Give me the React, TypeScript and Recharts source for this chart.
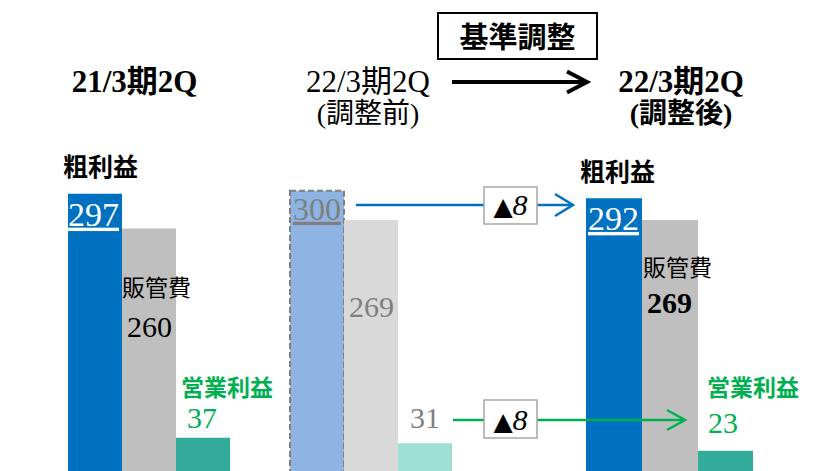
import React from 'react';
import { BarChart, Bar, XAxis, YAxis } from 'recharts';

// ---- data ----
const periods = ['21/3期2Q', '22/3期2Q', '22/3期2Q'];
const periodNotes = ['', '(調整前)', '(調整後)'];
const metricNames = ['粗利益', '販管費', '営業利益'];
const grossProfit = [297, 300, 292];
const sgaExpenses = [260, 269, 269];
const operatingIncome = [37, 31, 23];
const adjustments = [8, 8];

const row: Record<string, any> = { name: 'all' };
periods.forEach((_, i) => {
  row[`gp${i}`] = grossProfit[i];
  row[`sga${i}`] = sgaExpenses[i];
  row[`op${i}`] = operatingIncome[i];
});
const data = [row];

// ---- styles ----
const SERIF = "'Liberation Serif', 'Noto Sans CJK JP', serif";
const CJK = "'Noto Sans CJK JP', sans-serif";
const GREEN = '#00B050';
const gpColors = ['#0070C0', '#8EB4E3', '#0070C0'];
const sgaColors = ['#BFBFBF', '#D9D9D9', '#BFBFBF'];
const opColors = ['#33AB9A', '#9FE0D6', '#33AB9A'];
const barSizes = [
  [54, 54, 54],
  [54, 54, 54],
  [56, 56, 55],
];
const groupGaps = [60, 134];

type LabelSpec = {
  name?: { dx: number; dy: number; size: number; weight: any; color: string };
  value: { dx: number; dy: number; size: number; weight: any; color: string; underline?: boolean };
};

const gpLabels: LabelSpec[] = [
  { name: { dx: -5, dy: -17.5, size: 25, weight: 700, color: '#000' }, value: { dx: 0, dy: 32, size: 34, weight: 400, color: '#fff', underline: true } },
  { value: { dx: 3, dy: 29, size: 32, weight: 400, color: '#7F7F7F', underline: true } },
  { name: { dx: -6, dy: -17.5, size: 25, weight: 700, color: '#000' }, value: { dx: 2, dy: 31.6, size: 34, weight: 400, color: '#fff', underline: true } },
];
const sgaLabels: LabelSpec[] = [
  { name: { dx: 0, dy: 68, size: 23, weight: 400, color: '#000' }, value: { dx: 5, dy: 109, size: 30, weight: 400, color: '#000' } },
  { value: { dx: 5, dy: 97, size: 30, weight: 400, color: '#7F7F7F' } },
  { name: { dx: 1, dy: 56, size: 23, weight: 400, color: '#000' }, value: { dx: 5, dy: 93, size: 30, weight: 700, color: '#000' } },
];
const opLabels: LabelSpec[] = [
  { name: { dx: 5, dy: -42, size: 23, weight: 700, color: GREEN }, value: { dx: 11, dy: -10, size: 30, weight: 400, color: GREEN } },
  { value: { dx: 12, dy: -15, size: 30, weight: 400, color: '#7F7F7F' } },
  { name: { dx: 9, dy: -55, size: 23, weight: 700, color: GREEN }, value: { dx: 10, dy: -18, size: 30, weight: 400, color: GREEN } },
];

const makeLabel = (spec: LabelSpec, name: string) => (props: any) => {
  const x = Number(props.x);
  const y = Number(props.y);
  const v = spec.value;
  return (
    <g>
      {spec.name && (
        <text
          x={x + spec.name.dx}
          y={y + spec.name.dy}
          fontFamily={CJK}
          fontSize={spec.name.size}
          fontWeight={spec.name.weight}
          fill={spec.name.color}
        >
          {name}
        </text>
      )}
      <text
        x={x + v.dx}
        y={y + v.dy}
        fontFamily={SERIF}
        fontSize={v.size}
        fontWeight={v.weight}
        fill={v.color}
        style={v.underline ? { textDecoration: 'underline' } : undefined}
      >
        {props.value}
      </text>
    </g>
  );
};

function Delta({ cx, baseline, value }: { cx: number; baseline: number; value: number }) {
  return (
    <text x={cx} y={baseline} textAnchor="middle" fill="#000">
      <tspan fontFamily="'DejaVu Sans'" fontSize={25}>▲</tspan>
      <tspan fontFamily={SERIF} fontStyle="italic" fontSize={30}>{value}</tspan>
    </text>
  );
}

function Overlay() {
  return (
    <svg width={829} height={471} style={{ position: 'absolute', left: 0, top: 0, pointerEvents: 'none' }}>
      {/* 基準調整 box + arrow */}
      <rect x={438} y={13} width={159} height={46} fill="#fff" stroke="#000" strokeWidth={2} />
      <text x={517.5} y={47.5} textAnchor="middle" fontFamily={CJK} fontSize={29} fontWeight={700} fill="#000">
        基準調整
      </text>
      <line x1={452} y1={82} x2={584} y2={82} stroke="#000" strokeWidth={4} />
      <polyline points="567,71.5 587,82 567,92.5" fill="none" stroke="#000" strokeWidth={4} />

      {/* period headers */}
      <text x={134.5} y={92} textAnchor="middle" fontFamily={SERIF} fontSize={31} fontWeight={700} fill="#000">
        {periods[0]}
      </text>
      <text x={368} y={92} textAnchor="middle" fontFamily={SERIF} fontSize={31} fontWeight={400} fill="#000">
        {periods[1]}
      </text>
      <text x={368} y={123} textAnchor="middle" fontFamily={SERIF} fontSize={28} fontWeight={400} fill="#000">
        {periodNotes[1]}
      </text>
      <text x={681} y={92} textAnchor="middle" fontFamily={SERIF} fontSize={31} fontWeight={700} fill="#000">
        {periods[2]}
      </text>
      <text x={681} y={123} textAnchor="middle" fontFamily={SERIF} fontSize={28} fontWeight={700} fill="#000">
        {periodNotes[2]}
      </text>

      {/* gross profit adjustment arrow */}
      <line x1={356} y1={205} x2={572} y2={205} stroke="#0070C0" strokeWidth={2.5} />
      <polyline points="555,194 573,205 555,216" fill="none" stroke="#0070C0" strokeWidth={2.5} />
      <rect x={484} y={187} width={53} height={37} fill="#fff" stroke="#A6A6A6" strokeWidth={1.5} />
      <Delta cx={510.5} baseline={215} value={adjustments[0]} />

      {/* operating income adjustment arrow */}
      <line x1={453} y1={420} x2={684} y2={420} stroke={GREEN} strokeWidth={2.5} />
      <polyline points="667,410 685,420 667,430" fill="none" stroke={GREEN} strokeWidth={2.5} />
      <rect x={484} y={400} width={53} height={38} fill="#fff" stroke="#A6A6A6" strokeWidth={1.5} />
      <Delta cx={510.5} baseline={430} value={adjustments[1]} />
    </svg>
  );
}

export default function App() {
  const bars: React.ReactNode[] = [];
  periods.forEach((_, i) => {
    bars.push(
      <Bar
        key={`gp${i}`}
        dataKey={`gp${i}`}
        fill={gpColors[i]}
        barSize={barSizes[i][0]}
        stroke={i === 1 ? '#7F7F7F' : undefined}
        strokeWidth={i === 1 ? 2 : 0}
        strokeDasharray={i === 1 ? '6 3' : undefined}
        isAnimationActive={false}
        label={makeLabel(gpLabels[i], metricNames[0])}
      />
    );
    bars.push(
      <Bar
        key={`sga${i}`}
        dataKey={`sga${i}`}
        fill={sgaColors[i]}
        barSize={barSizes[i][1]}
        isAnimationActive={false}
        label={makeLabel(sgaLabels[i], metricNames[1])}
      />
    );
    bars.push(
      <Bar
        key={`op${i}`}
        dataKey={`op${i}`}
        fill={opColors[i]}
        barSize={barSizes[i][2]}
        isAnimationActive={false}
        label={makeLabel(opLabels[i], metricNames[2])}
      />
    );
    if (i < groupGaps.length) {
      bars.push(
        <Bar key={`gap${i}`} dataKey={`gap${i}`} fill="none" barSize={groupGaps[i]} isAnimationActive={false} />
      );
    }
  });

  return (
    <div style={{ position: 'relative', width: 829, height: 471, overflow: 'hidden', background: '#fff' }}>
      <style>{'body{margin:0;overflow:hidden;background:#fff}'}</style>
      <BarChart
        width={829}
        height={480}
        data={data}
        barGap={0}
        margin={{ top: 190.85, right: 66, bottom: 7.6, left: 58 }}
      >
        <XAxis dataKey="name" hide />
        <YAxis hide domain={[0, 300]} />
        {bars}
      </BarChart>
      <Overlay />
    </div>
  );
}
